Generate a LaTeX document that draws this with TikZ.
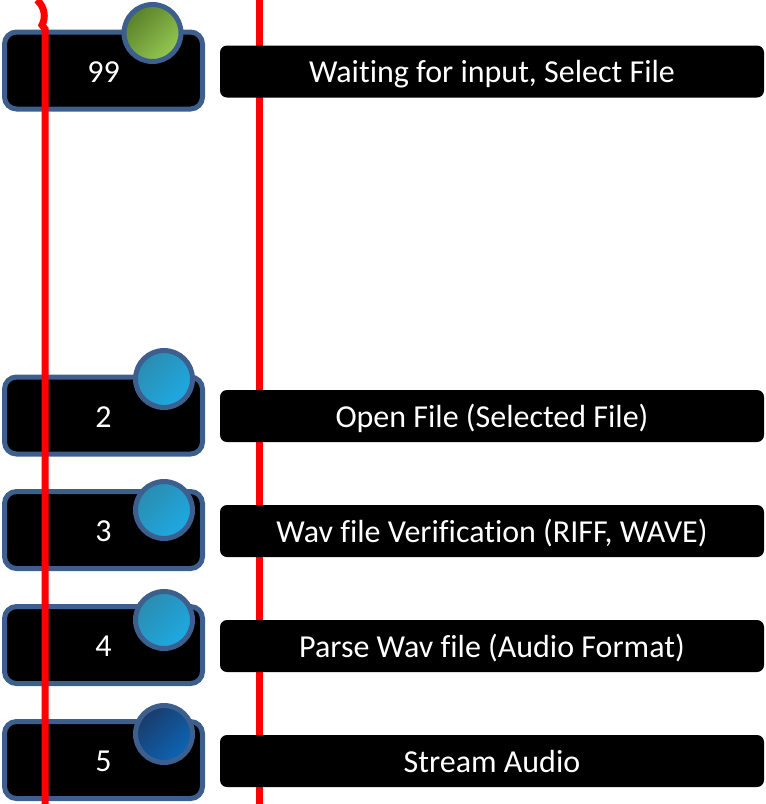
\documentclass[tikz,border=0pt]{standalone}
\usepackage{fontspec}
\setmainfont{Carlito}[Ligatures=NoCommon]
\usetikzlibrary{
    calc,
    positioning
}
\definecolor{rimblue}{HTML}{3C5F8E}
\definecolor{greendark}{HTML}{5A7F2A}
\definecolor{greenlight}{HTML}{94C951}
\definecolor{cyandark}{HTML}{2B8CB0}
\definecolor{cyanlight}{HTML}{1DAAE3}
\definecolor{navydark}{HTML}{1B3B6B}
\definecolor{navylight}{HTML}{0B66B5}
\tikzset{
    statebox/.style={draw=rimblue, line width=5pt, fill=black, rounded corners=12pt,
        minimum width=198pt, minimum height=77pt, text=white,
        text height=26pt, text depth=3pt,
        font=\fontsize{32}{36}\selectfont},
    stagebox/.style={fill=black, rounded corners=7pt, minimum width=544pt,
        minimum height=52pt, text=white, text height=26pt, text depth=4pt,
        font=\fontsize{32}{36}\selectfont},
    lamp/.style={circle, draw=rimblue, line width=5pt, minimum size=57pt, inner sep=0pt},
    track/.style={draw=red, line width=7pt}
}

\begin{document}
\begin{tikzpicture}[x=1pt, y=1pt]
    \useasboundingbox (0, 0) rectangle (766, -804);

    % right track runs behind the stage boxes
    \coordinate (righttop) at (259, 0);
    \coordinate (rightbot) at (259, -804);
    \draw[track] (righttop) -- (rightbot);

    \node[statebox] (s99) at (103.5, -70.5) {99};
    \node[statebox] (s2) at (103.5, -415.5) {2};
    \node[statebox] (s3) at (103.5, -530) {3};
    \node[statebox] (s4) at (103.5, -645) {4};
    \node[statebox] (s5) at (103.5, -760) {5};

    % left track runs over the state boxes
    \coordinate (lefttop) at (37, 0);
    \coordinate (leftbot) at (45, -804);
    \draw[track] (lefttop) .. controls (45, -7) and (46, -18) .. (42, -25)
        -- (45, -29) -- (leftbot);

    \node[stagebox] (t99) at (492, -71.5) {Waiting for input, Select File};
    \node[stagebox] (t2) at (492, -416) {Open File (Selected File)};
    \node[stagebox] (t3) at (492, -531) {Wav file Verification (RIFF, WAVE)};
    \node[stagebox] (t4) at (492, -646) {Parse Wav file (Audio Format)};
    \node[stagebox] (t5) at (492, -761) {Stream Audio};

    \node[lamp, top color=greendark, bottom color=greenlight, shading angle=45] (l99) at (152.5, -33) {};
    \node[lamp, top color=cyandark, bottom color=cyanlight, shading angle=45] (l2) at (164, -379) {};
    \node[lamp, top color=cyandark, bottom color=cyanlight, shading angle=45] (l3) at (164, -510) {};
    \node[lamp, top color=cyandark, bottom color=cyanlight, shading angle=45] (l4) at (164, -620) {};
    \node[lamp, top color=navydark, bottom color=navylight, shading angle=45] (l5) at (164, -734) {};
\end{tikzpicture}
\end{document}
